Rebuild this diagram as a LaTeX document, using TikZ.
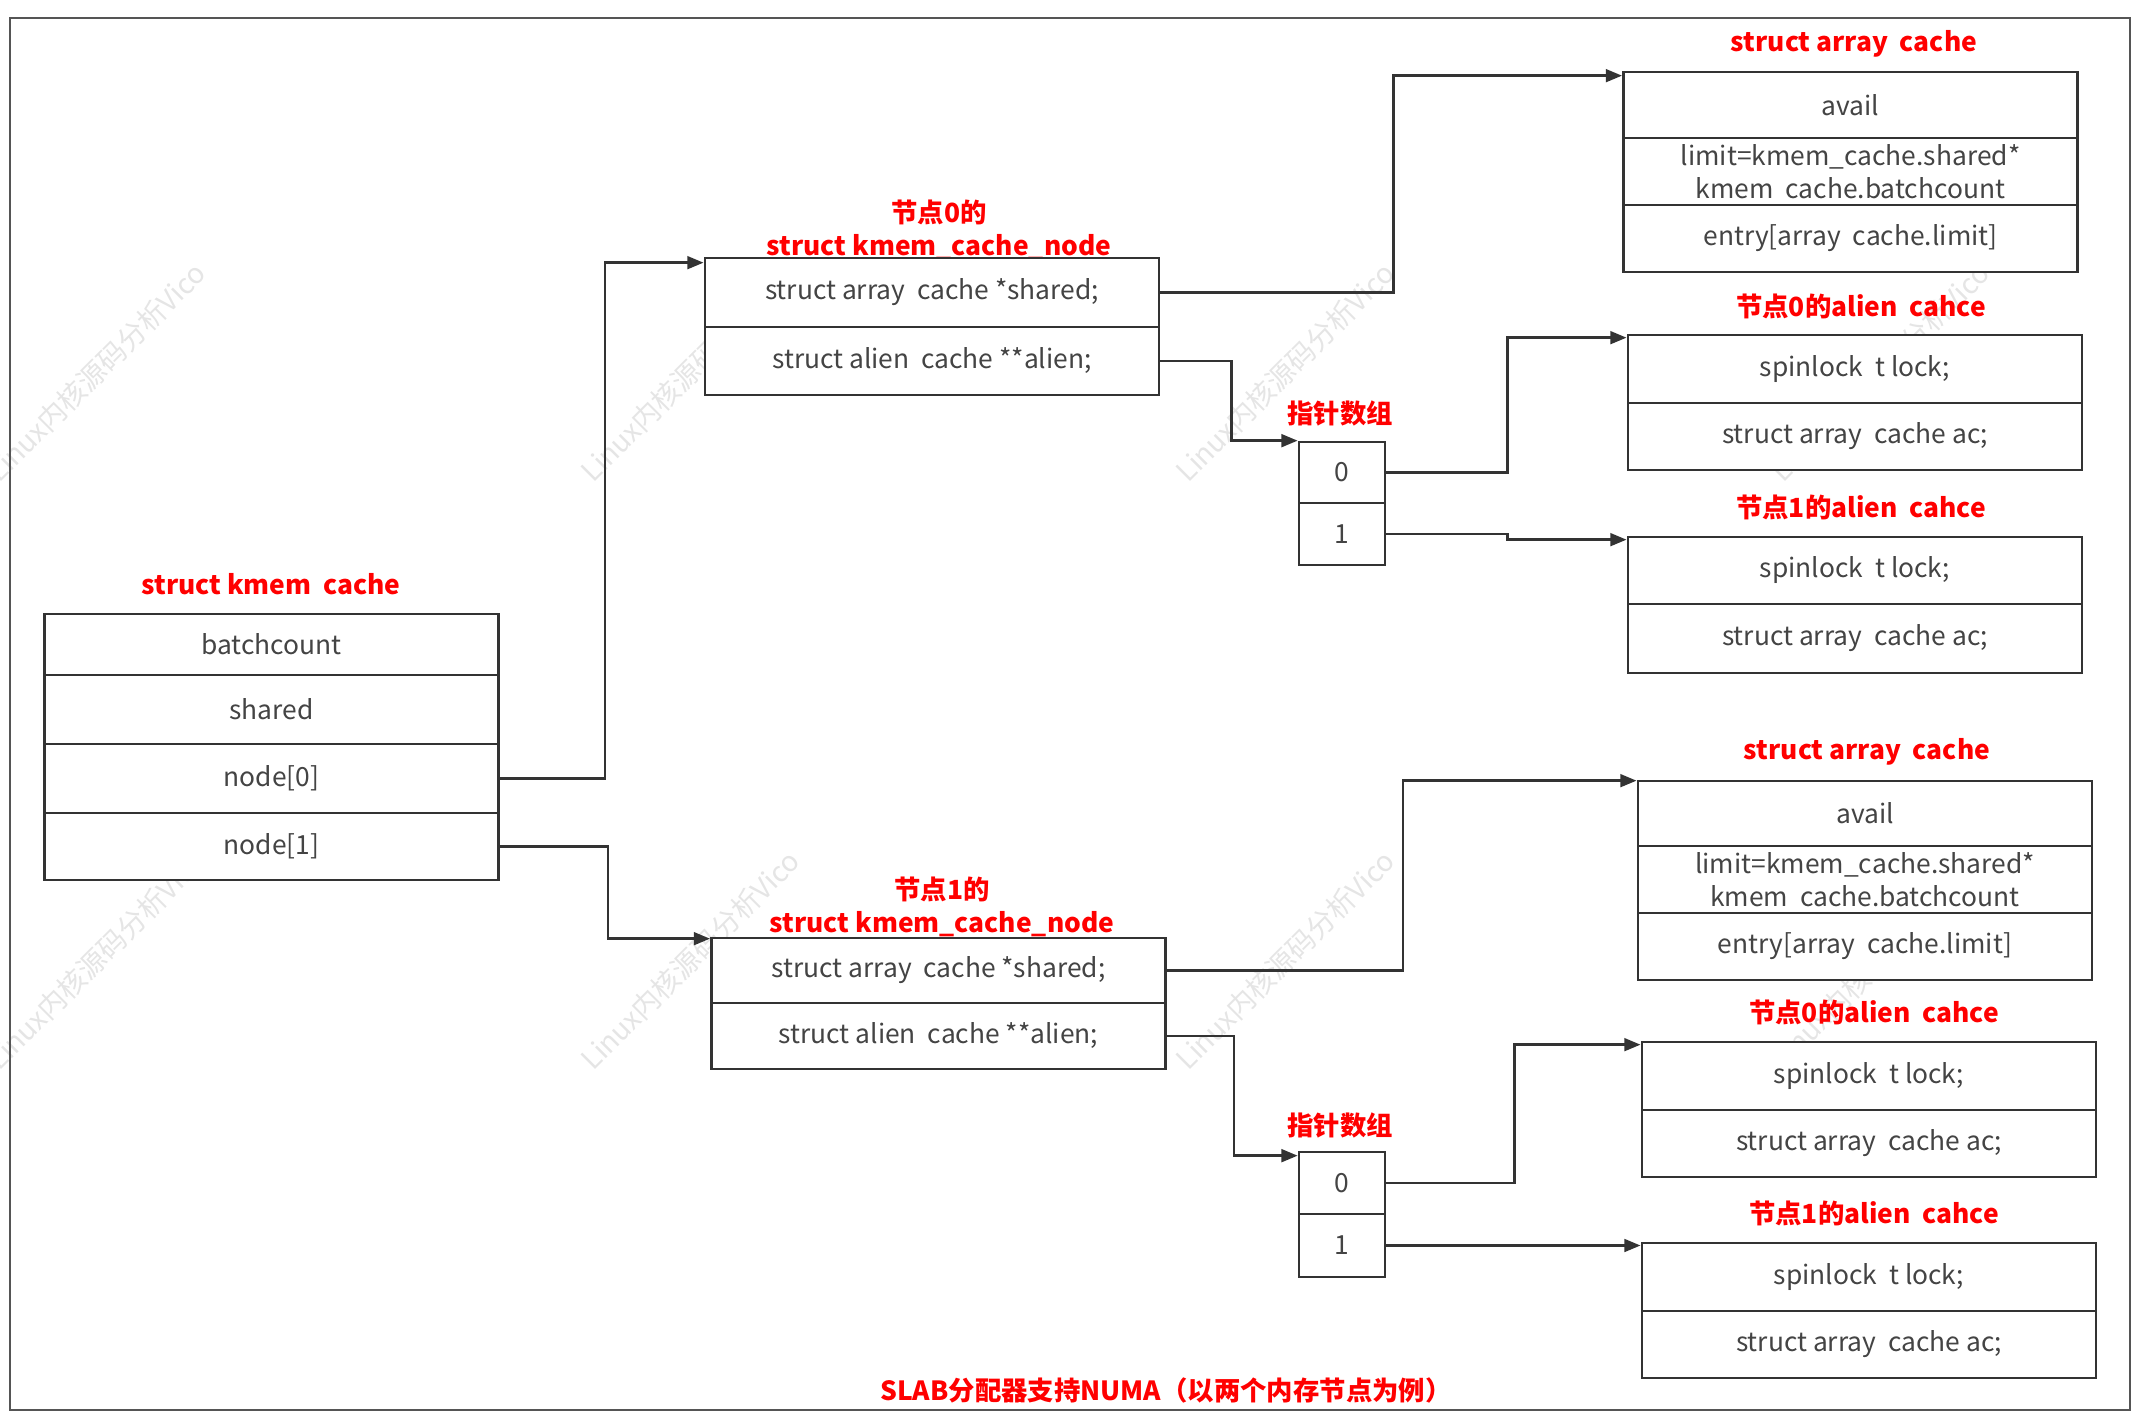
\documentclass[tikz,border=0pt]{standalone}
\usepackage{fontspec}
\setmainfont{Noto Sans CJK SC}
\usetikzlibrary{calc, positioning, arrows.meta}
\definecolor{linec}{HTML}{333333}
\definecolor{txtc}{HTML}{444444}
\definecolor{framec}{HTML}{555555}
\newcommand{\ugap}{\hspace{0.45em}}

\begin{document}
\begin{tikzpicture}[x=0.01cm, y=-0.01cm, >={Stealth[length=4.6pt, width=3.6pt, inset=0pt]},
  field/.style={draw=linec, fill=white, text=txtc, line width=0.75pt, inner sep=0pt,
    font=\fontsize{7.5}{9.4}\selectfont, align=center},
  wide/.style={minimum width=4.54cm},
  cell/.style={minimum width=0.86cm},
  title/.style={text=red, font=\fontsize{7.5}{9.4}\selectfont\bfseries, align=center},
  link/.style={->, draw=linec, line width=0.75pt},
  wmark/.style={text=black!10, rotate=45, font=\fontsize{8}{10}\selectfont}]
  \useasboundingbox (0,0) rectangle (2144,1424);
  % watermark behind everything
  \foreach \wx in {96,690,1285,1880}
    \foreach \wy in {372,960}
      \node[wmark] (wm-\wx-\wy) at (\wx,\wy) {Linux内核源码分析Vico};
  \draw[framec, line width=0.8pt] (10,18) rectangle (2130,1410);

  % struct kmem_cache
  \node[title] (kc-title) at (271,584) {struct kmem\ugap cache};
  \node[field, wide, minimum height=0.61cm] (kc-batch) at (271.5,644.5) {batchcount};
  \node[field, wide, minimum height=0.69cm] (kc-shared) at (271.5,709.5) {shared};
  \node[field, wide, minimum height=0.69cm] (kc-n0) at (271.5,778.5) {node[0]};
  \node[field, wide, minimum height=0.67cm] (kc-n1) at (271.5,846.5) {node[1]};

  % kmem_cache_node of node 0 / node 1
  \node[title] (n0-title) at (939,230) {节点0的\\struct kmem\_cache\_node};
  \node[field, wide, minimum height=0.69cm] (n0-shared) at (932,292.5) {struct array\ugap cache *shared;};
  \node[field, wide, minimum height=0.68cm] (n0-alien) at (932,361) {struct alien\ugap cache **alien;};
  \node[title] (n1-title) at (942,907) {节点1的\\struct kmem\_cache\_node};
  \node[field, wide, minimum height=0.65cm] (n1-shared) at (938.5,970.5) {struct array\ugap cache *shared;};
  \node[field, wide, minimum height=0.66cm] (n1-alien) at (938.5,1036) {struct alien\ugap cache **alien;};

  % pointer arrays
  \node[title] (p0-title) at (1340,414) {指针数组};
  \node[field, cell, minimum height=0.61cm] (p0-0) at (1342,472.5) {0};
  \node[field, cell, minimum height=0.62cm] (p0-1) at (1342,534) {1};
  \node[title] (p1-title) at (1340,1125) {指针数组};
  \node[field, cell, minimum height=0.62cm] (p1-0) at (1342,1183) {0};
  \node[field, cell, minimum height=0.63cm] (p1-1) at (1342,1245.5) {1};

  % struct array_cache
  \node[title] (ac0-title) at (1854,44) {struct array\ugap cache};
  \node[field, wide, minimum height=0.66cm] (ac0-avail) at (1850.5,105) {avail};
  \node[field, wide, minimum height=0.67cm] (ac0-limit) at (1850.5,171.5) {limit=kmem\_cache.shared*\\kmem\ugap cache.batchcount};
  \node[field, wide, minimum height=0.67cm] (ac0-entry) at (1850.5,238.5) {entry[array\ugap cache.limit]};
  \node[title] (ac1-title) at (1867,752) {struct array\ugap cache};
  \node[field, wide, minimum height=0.65cm] (ac1-avail) at (1865,813.5) {avail};
  \node[field, wide, minimum height=0.67cm] (ac1-limit) at (1865,879.5) {limit=kmem\_cache.shared*\\kmem\ugap cache.batchcount};
  \node[field, wide, minimum height=0.67cm] (ac1-entry) at (1865,946.5) {entry[array\ugap cache.limit]};

  % alien caches
  \node[title] (al00-title) at (1861,306) {节点0的alien\ugap cahce};
  \node[field, wide, minimum height=0.68cm] (al00-lock) at (1855,369) {spinlock\ugap t lock;};
  \node[field, wide, minimum height=0.67cm] (al00-ac) at (1855,436.5) {struct array\ugap cache ac;};
  \node[title] (al01-title) at (1861,507) {节点1的alien\ugap cahce};
  \node[field, wide, minimum height=0.67cm] (al01-lock) at (1855,570.5) {spinlock\ugap t lock;};
  \node[field, wide, minimum height=0.69cm] (al01-ac) at (1855,638.5) {struct array\ugap cache ac;};
  \node[title] (al10-title) at (1874,1012) {节点0的alien\ugap cahce};
  \node[field, wide, minimum height=0.68cm] (al10-lock) at (1869,1076) {spinlock\ugap t lock;};
  \node[field, wide, minimum height=0.67cm] (al10-ac) at (1869,1143.5) {struct array\ugap cache ac;};
  \node[title] (al11-title) at (1874,1213) {节点1的alien\ugap cahce};
  \node[field, wide, minimum height=0.68cm] (al11-lock) at (1869,1277) {spinlock\ugap t lock;};
  \node[field, wide, minimum height=0.67cm] (al11-ac) at (1869,1344.5) {struct array\ugap cache ac;};

  \node[title] (caption) at (1166,1390) {SLAB分配器支持NUMA（以两个内存节点为例）};

  % arrow entry points
  \coordinate (n0-in) at ($(n0-shared.north west)+(0,6)$);
  \coordinate (n1-in) at ($(n1-shared.north west)+(0,2)$);
  \coordinate (ac0-in) at ($(ac0-avail.north west)+(0,5)$);
  \coordinate (ac1-in) at ($(ac1-avail.north west)+(0,1)$);
  \coordinate (p1-in) at ($(p1-0.north west)+(0,5)$);
  \coordinate (al00-in) at ($(al00-lock.north west)+(0,4)$);
  \coordinate (al01-in) at ($(al01-lock.north west)+(0,4)$);
  \coordinate (al10-in) at ($(al10-lock.north west)+(0,4)$);

  \draw[link] (kc-n0.east) -- ++(105,0) |- (n0-in);
  \draw[link] (kc-n1.east) -- ++(108,0) |- (n1-in);
  \draw[link] (n0-shared.east) -- ++(233,0) |- (ac0-in);
  \draw[link] (n0-alien.east) -- ++(71,0) |- (p0-0.north west);
  \draw[link] (p0-0.east) -- ++(121,0) |- (al00-in);
  \draw[link] (p0-1.east) -- ++(121,0) |- (al01-in);
  \draw[link] (n1-shared.east) -- ++(236,0) |- (ac1-in);
  \draw[link] (n1-alien.east) -- ++(67,0) |- (p1-in);
  \draw[link] (p1-0.east) -- ++(128,0) |- (al10-in);
  \draw[link] (p1-1.east) -- (p1-1.east -| al11-lock.west);
\end{tikzpicture}
\end{document}
